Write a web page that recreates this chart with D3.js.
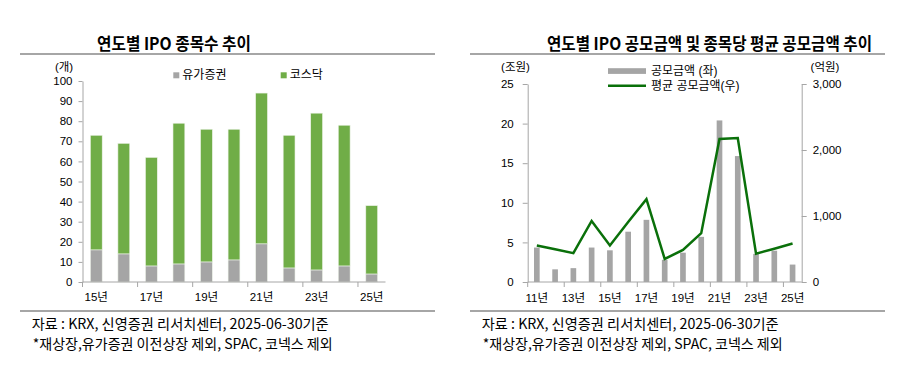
<!DOCTYPE html>
<html><head><meta charset="utf-8">
<script src="https://cdn.jsdelivr.net/npm/d3@7"></script>
<style>
html,body{margin:0;padding:0;background:#fff;}
svg{display:block;}
text{font-family:"Liberation Sans","Noto Sans CJK KR",Arial,sans-serif;fill:#000;}
.kr{font-family:"Noto Sans CJK KR","Liberation Sans",sans-serif;}
</style></head>
<body>
<svg id="c" width="901" height="365"></svg>
<script>
// ---- Left chart data ----
const yearsL = ["15","16","17","18","19","20","21","22","23","24","25"];
const kospiCount = [16,14,8,9,10,11,19,7,6,8,4];
const kosdaqCount = [57,55,54,70,66,65,75,66,78,70,34];
const leftYTicks = [0,10,20,30,40,50,60,70,80,90,100];
const leftSeriesNames = ["유가증권","코스닥"];

// ---- Right chart data ----
const yearsR = ["11","12","13","14","15","16","17","18","19","20","21","22","23","24","25"];
const ipoAmount = [4.35,1.6,1.75,4.35,4.0,6.35,7.85,2.8,3.7,5.7,20.4,15.9,3.55,3.95,2.2];
const avgAmount = [553,495,437,925,553,910,1255,350,485,740,2168,2180,430,505,583];
const rightYTicksL = [0,5,10,15,20,25];
const rightYTicksR = [0,1000,2000,3000];
const rightSeriesNames = ["공모금액 (좌)","평균 공모금액(우)"];

const titleL = "연도별 IPO 종목수 추이";
const titleR = "연도별 IPO 공모금액 및 종목당 평균 공모금액 추이";
const source1 = "자료 : KRX, 신영증권 리서치센터, 2025-06-30기준";
const source2 = "*재상장,유가증권 이전상장 제외, SPAC, 코넥스 제외";

const GRAY = "#A5A5A5", GREEN = "#70AD47", LINEG = "#0A700A", AXIS = "#A6A6A6";
const svg = d3.select("#c");

function frame(x0, x1, titleText, titleW, tcx, srcX){
  svg.append("text").attr("class","kr").attr("x",tcx).attr("y",42).attr("text-anchor","middle")
    .attr("dominant-baseline","central").attr("font-size",17).attr("font-weight","bold")
    .attr("textLength",titleW).attr("lengthAdjust","spacingAndGlyphs").text(titleText);
  svg.append("line").attr("x1",x0).attr("x2",x1).attr("y1",54).attr("y2",54).attr("stroke",AXIS).attr("stroke-width",2);
  svg.append("line").attr("x1",x0).attr("x2",x1).attr("y1",311).attr("y2",311).attr("stroke",AXIS).attr("stroke-width",2);
  svg.append("text").attr("class","kr").attr("x",srcX).attr("y",322.5).attr("dominant-baseline","central")
    .attr("font-size",14).attr("textLength",297).attr("lengthAdjust","spacingAndGlyphs").text(source1);
  svg.append("text").attr("class","kr").attr("x",srcX+1).attr("y",342.5).attr("dominant-baseline","central")
    .attr("font-size",14).attr("textLength",300).attr("lengthAdjust","spacingAndGlyphs").text(source2);
}
frame(20,435,titleL,154,174,31.7);
frame(470,885,titleR,325,709.5,481.7);

function styleAxis(g){
  g.select(".domain").attr("stroke",AXIS);
  g.selectAll(".tick line").attr("stroke",AXIS);
  g.selectAll(".tick text").attr("font-size",11.5).attr("fill","#000");
}

// ---- Left chart ----
{
  const x = d3.scaleBand().domain(yearsL).range([82.5,385.5]).padding(0);
  const y = d3.scaleLinear().domain([0,100]).range([282,81]);
  const bw = x.bandwidth()*0.43;
  const ya = svg.append("g").attr("transform","translate(82.5,0)")
    .call(d3.axisLeft(y).tickValues(leftYTicks).tickSize(4).tickPadding(6).tickSizeOuter(0));
  styleAxis(ya);
  const stackData = yearsL.map((yr,i)=>({yr, a:kospiCount[i], b:kosdaqCount[i]}));
  const series = d3.stack().keys(["a","b"])(stackData);
  const colors = [GRAY, GREEN];
  series.forEach((s,si)=>{
    svg.append("g").selectAll("rect").data(s).join("rect")
      .attr("x",d=>x(d.data.yr)+x.bandwidth()/2-bw/2)
      .attr("width",bw)
      .attr("y",d=>y(d[1]))
      .attr("height",d=>y(d[0])-y(d[1]))
      .attr("fill",colors[si]).attr("stroke","#eef3ea").attr("stroke-width",0.6);
  });
  const xa = svg.append("g").attr("transform","translate(0,282)");
  xa.append("line").attr("x1",82.5).attr("x2",385.5).attr("stroke",AXIS);
  const odd = yearsL.filter((d,i)=>i%2===0);
  xa.selectAll(".tk").data(odd).join("line").attr("class","tk")
    .attr("x1",d=>x(d)).attr("x2",d=>x(d)).attr("y1",0).attr("y2",5).attr("stroke",AXIS);
  xa.selectAll(".lb").data(odd).join("text").attr("class","lb")
    .attr("x",d=>x(d)+x.bandwidth()/2).attr("y",15).attr("text-anchor","middle")
    .attr("dominant-baseline","central").attr("font-size",11.5).text(d=>d+"년");
  svg.append("text").attr("x",64).attr("y",67).attr("text-anchor","middle")
    .attr("dominant-baseline","central").attr("font-size",11.5).text("(개)");
  const lg = [[173.3,leftSeriesNames[0],GRAY],[280.7,leftSeriesNames[1],GREEN]];
  lg.forEach(([lx,t,c])=>{
    svg.append("rect").attr("x",lx).attr("y",72.3).attr("width",6).attr("height",6).attr("fill",c);
    svg.append("text").attr("x",lx+9).attr("y",75.3).attr("dominant-baseline","central")
      .attr("font-size",12).text(t);
  });
}

// ---- Right chart ----
{
  const x = d3.scaleBand().domain(yearsR).range([527.7,801.7]).padding(0);
  const yL = d3.scaleLinear().domain([0,25]).range([282,84]);
  const yR = d3.scaleLinear().domain([0,3000]).range([282,84]);
  const bw = x.bandwidth()*0.31;
  const ya = svg.append("g").attr("transform","translate(527.7,0)")
    .call(d3.axisLeft(yL).tickValues(rightYTicksL).tickSize(5).tickPadding(9).tickSizeOuter(0));
  styleAxis(ya);
  const yb = svg.append("g").attr("transform","translate(801.7,0)")
    .call(d3.axisRight(yR).tickValues(rightYTicksR).tickSize(5).tickPadding(6).tickSizeOuter(0).tickFormat(d3.format(",")));
  styleAxis(yb);
  svg.append("g").selectAll("rect").data(yearsR).join("rect")
    .attr("x",d=>x(d)+x.bandwidth()/2-bw/2).attr("width",bw)
    .attr("y",(d,i)=>yL(ipoAmount[i])).attr("height",(d,i)=>yL(0)-yL(ipoAmount[i]))
    .attr("fill",GRAY);
  const line = d3.line().x((d,i)=>x(yearsR[i])+x.bandwidth()/2).y(d=>yR(d));
  svg.append("path").datum(avgAmount).attr("d",line).attr("fill","none")
    .attr("stroke",LINEG).attr("stroke-width",2.5).attr("stroke-linejoin","miter");
  const xa = svg.append("g").attr("transform","translate(0,282)");
  xa.append("line").attr("x1",527.7).attr("x2",801.7).attr("stroke",AXIS);
  const odd = yearsR.filter((d,i)=>i%2===0);
  xa.selectAll(".tk").data(odd).join("line").attr("class","tk")
    .attr("x1",d=>x(d)).attr("x2",d=>x(d)).attr("y1",0).attr("y2",5).attr("stroke",AXIS);
  xa.selectAll(".lb").data(odd).join("text").attr("class","lb")
    .attr("x",d=>x(d)+x.bandwidth()/2).attr("y",16).attr("text-anchor","middle")
    .attr("dominant-baseline","central").attr("font-size",11.5).text(d=>d+"년");
  svg.append("text").attr("x",515.5).attr("y",67).attr("text-anchor","middle")
    .attr("dominant-baseline","central").attr("font-size",11.5).text("(조원)");
  svg.append("text").attr("x",825).attr("y",67).attr("text-anchor","middle")
    .attr("dominant-baseline","central").attr("font-size",11.5).text("(억원)");
  svg.append("rect").attr("x",608).attr("y",68.2).attr("width",38).attr("height",5.7).attr("fill",GRAY);
  svg.append("text").attr("x",651).attr("y",70.8).attr("dominant-baseline","central")
    .attr("font-size",12).text(rightSeriesNames[0]);
  svg.append("line").attr("x1",608).attr("x2",646).attr("y1",85.7).attr("y2",85.7).attr("stroke",LINEG).attr("stroke-width",2.5);
  svg.append("text").attr("x",651).attr("y",86.2).attr("dominant-baseline","central")
    .attr("font-size",12).text(rightSeriesNames[1]);
}
</script>
</body></html>
